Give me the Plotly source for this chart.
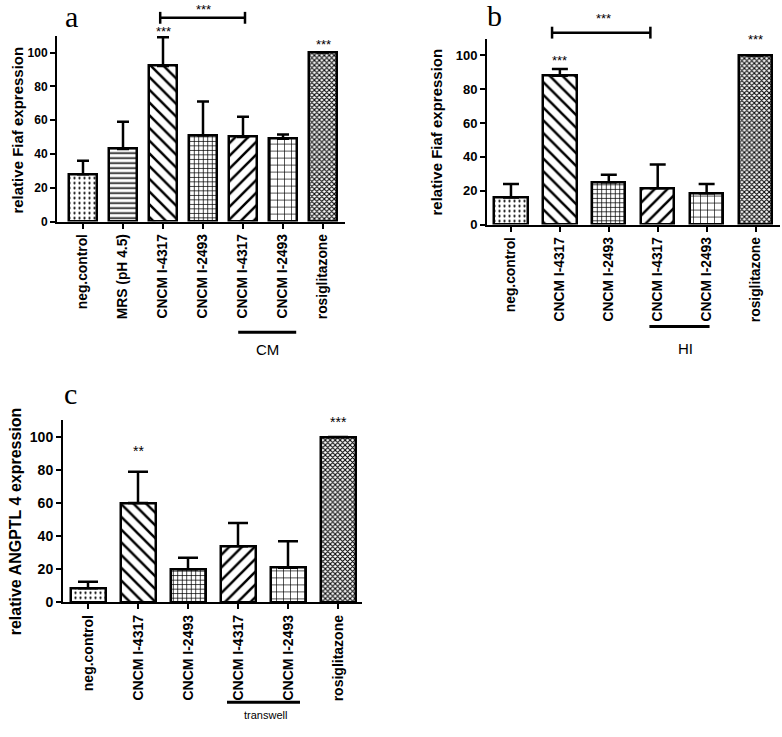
import plotly.graph_objects as go

W, H = 782, 737
def py(y):
    return 1 - y / H
def px(x):
    return x / W

FONT = "Liberation Sans, Arial, sans-serif"

# ---------------- data ----------------
cats_a = ["neg.control", "MRS (pH 4.5)", "CNCM I-4317", "CNCM I-2493",
          "CNCM I-4317", "CNCM I-2493", "rosiglitazone"]
vals_a = [28, 43, 92, 51, 50, 49, 100]
top_a = [36, 59, 109, 71, 62, 51.5, 100]   # upper end of error bar

cats_b = ["neg.control", "CNCM I-4317", "CNCM I-2493",
          "CNCM I-4317", "CNCM I-2493", "rosiglitazone"]
vals_b = [16, 88, 25, 21.5, 18.5, 100]
top_b = [24, 92, 29.5, 35.5, 24, 100]

cats_c = ["neg.control", "CNCM I-4317", "CNCM I-2493",
          "CNCM I-4317", "CNCM I-2493", "rosiglitazone"]
vals_c = [8.5, 60, 20, 34, 21, 100]
top_c = [12.5, 79, 27, 48, 37, 100]

yticks = [0, 20, 40, 60, 80, 100]

# pattern styles
PAT = {
    "dots": (".", 5, 0.16),
    "hlines": ("-", 5, 0.3),
    "back": ("\\", 9, 0.28),
    "grid": ("+", 4.5, 0.3),
    "fwd": ("/", 9, 0.28),
    "brick": ("+", 7, 0.18),
    "check": ("x", 3.5, 0.5),
}
pats_a = ["dots", "hlines", "back", "grid", "fwd", "brick", "check"]
pats_b = ["dots", "back", "grid", "fwd", "brick", "check"]
pats_c = ["dots", "back", "grid", "fwd", "brick", "check"]

fig = go.Figure()

def add_panel(vals, tops, pats, xa, ya, width, capw):
    n = len(vals)
    fig.add_trace(go.Bar(
        x=list(range(n)), y=vals, width=width,
        xaxis=xa, yaxis=ya,
        marker=dict(
            color="white",
            line=dict(color="black", width=2.5),
            pattern=dict(
                shape=[PAT[p][0] for p in pats],
                size=[PAT[p][1] for p in pats],
                solidity=[PAT[p][2] for p in pats],
                fgcolor="black", bgcolor="white", fillmode="replace",
            ),
        ),
        error_y=dict(type="data", symmetric=False,
                     array=[t - v for t, v in zip(tops, vals)],
                     arrayminus=[0] * n,
                     color="black", thickness=2.5, width=capw),
        showlegend=False, hoverinfo="skip",
    ))

add_panel(vals_a, top_a, pats_a, "x", "y", 0.72, 6)
add_panel(vals_b, top_b, pats_b, "x2", "y2", 0.68, 8)
add_panel(vals_c, top_c, pats_c, "x3", "y3", 0.70, 10)

def xax(dom, rng, cats, anchor, fs):
    return dict(domain=dom, range=rng, anchor=anchor,
                showline=True, linecolor="black", linewidth=2,
                ticks="outside", ticklen=5, tickwidth=2, tickcolor="black",
                tickvals=list(range(len(cats))), ticktext=cats, tickangle=-90,
                tickfont=dict(family=FONT, size=fs, color="black", weight="bold"),
                showgrid=False, zeroline=False, fixedrange=True)

def yax(dom, anchor, fs):
    return dict(domain=dom, range=[0, 110], anchor=anchor,
                showline=True, linecolor="black", linewidth=2,
                ticks="outside", ticklen=5, tickwidth=2, tickcolor="black",
                tickvals=yticks,
                tickfont=dict(family=FONT, size=fs, color="black", weight="bold"),
                showgrid=False, zeroline=False, fixedrange=True)

fig.update_layout(
    width=W, height=H,
    margin=dict(l=0, r=0, t=0, b=0),
    paper_bgcolor="white", plot_bgcolor="white",
    bargap=0,
    xaxis=xax([px(57), px(345)], [-0.65, 6.55], cats_a, "y", 13.8),
    yaxis=yax([py(224), py(36)], "x", 12),
    xaxis2=xax([px(487), px(780)], [-0.49, 5.5], cats_b, "y2", 13.8),
    yaxis2=yax([py(227), py(39)], "x2", 13),
    xaxis3=xax([px(63), px(362)], [-0.5, 5.48], cats_c, "y3", 14),
    yaxis3=yax([py(609), py(425)], "x3", 14),
)

ann = []
shapes = []

def text(x, y, s, xref, size=12, bold=False, family=FONT):
    ann.append(dict(x=x, y=y, xref=xref, yref="paper", text=s, showarrow=False,
                    xanchor="center", yanchor="middle",
                    font=dict(family=family, size=size, color="black",
                              weight="bold" if bold else "normal")))

def hline(x0, x1, y, xref, w=2.5):
    shapes.append(dict(type="line", x0=x0, x1=x1, y0=py(y), y1=py(y),
                       xref=xref, yref="paper", line=dict(color="black", width=w)))

def bracket(x0, x1, y, xref):
    hline(x0, x1, y, xref)
    for xx in (x0, x1):
        shapes.append(dict(type="line", x0=xx, x1=xx, y0=py(y - 6), y1=py(y + 6),
                           xref=xref, yref="paper", line=dict(color="black", width=2.5)))

# panel letters
SERIF = "Liberation Serif, DejaVu Serif, serif"
for lx, ly, s in [(63, 17, "a"), (485, 16, "b"), (62, 398, "c")]:
    ann.append(dict(x=px(lx), y=py(ly), xref="paper", yref="paper", text=s, showarrow=False,
                    xanchor="left", yanchor="middle",
                    font=dict(family=SERIF, size=30, color="black")))

# y-axis titles
for tx, ty, s, fs in [(18, 132, "relative Fiaf expression", 15),
                      (437, 134, "relative Fiaf expression", 15),
                      (15, 527, "relative ANGPTL 4 expression", 16)]:
    ann.append(dict(x=px(tx), y=py(ty), xref="paper", yref="paper", text=s,
                    showarrow=False, textangle=-90, xanchor="center", yanchor="middle",
                    font=dict(family=FONT, size=fs, color="black", weight="bold")))

# significance stars and brackets
text(2, py(32), "***", "x", size=13)
text(6, py(45), "***", "x", size=13)
bracket(1.93, 4.05, 18, "x")
text(3, py(10), "***", "x", size=13)

text(1, py(61), "***", "x2", size=13)
text(5, py(40), "***", "x2", size=13)
bracket(0.84, 2.85, 33, "x2")
text(1.9, py(19), "***", "x2", size=13)

text(1, py(456), "**", "x3", size=14)
text(5, py(427), "***", "x3", size=14)

# group underlines
hline(3.88, 5.33, 336, "x", w=3)
text(4.6, py(353), "CM", "x", size=15)
hline(2.83, 4.06, 330, "x2", w=3)
text(3.57, py(352), "HI", "x2", size=15)
hline(2.78, 4.24, 710, "x3", w=3)
text(3.54, py(723), "transwell", "x3", size=11)

fig.update_layout(annotations=ann, shapes=shapes)
fig.write_html("out.html", config={"displayModeBar": False},
               post_script="document.body.style.margin='0';")
